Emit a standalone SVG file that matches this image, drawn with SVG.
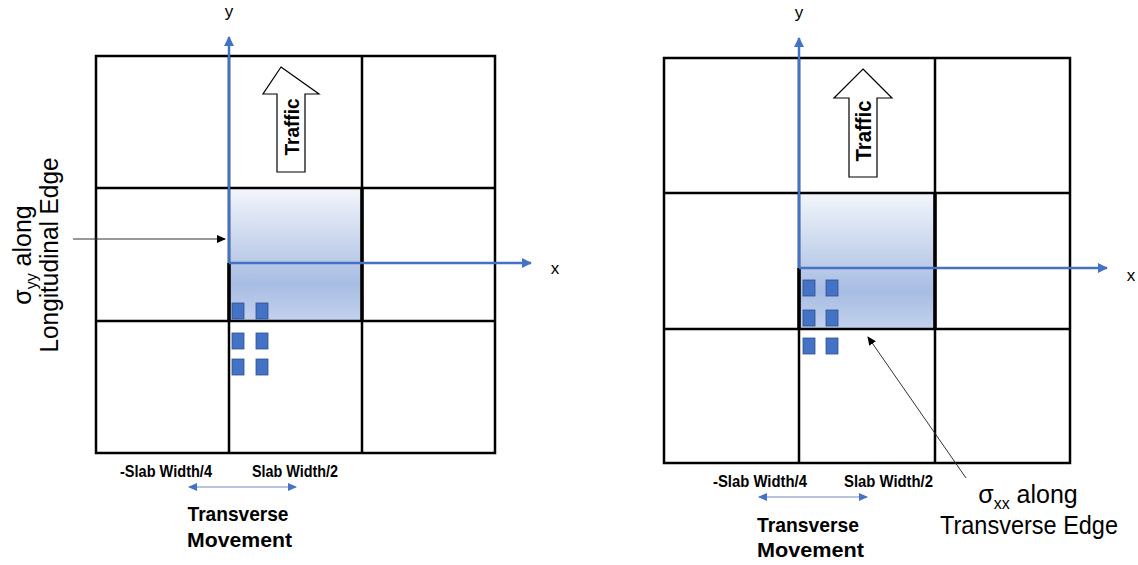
<svg xmlns="http://www.w3.org/2000/svg" width="1138" height="565" viewBox="0 0 1138 565">
<style>
.grid{fill:none;stroke:#000;stroke-width:2.5}
.thick{stroke:#000;stroke-width:3.5}
.axis{stroke:#4472c4;stroke-width:2.5;fill:none}
.sq{fill:#4472c4;stroke:#2f528f;stroke-width:0.8}
.traffic{fill:#fff;stroke:#000;stroke-width:1.2}
.lab{font-family:"Liberation Sans",Arial,sans-serif;fill:#000}
.b{font-weight:bold}
.ann{stroke:#333;stroke-width:1}
.mv{stroke:#9fb0cf;stroke-width:1.6}
</style>
<defs>
<linearGradient id="shade" x1="0" y1="0" x2="0" y2="1">
<stop offset="0" stop-color="#f3f6fb"/>
<stop offset="0.72" stop-color="#a8bde3"/>
<stop offset="1" stop-color="#c3d1ed"/>
</linearGradient>
<marker id="ab" markerWidth="10" markerHeight="10" refX="9" refY="5" orient="auto" markerUnits="userSpaceOnUse">
<path d="M0,0 L10,5 L0,10 Z" fill="#4472c4"/>
</marker>
<marker id="mb" markerWidth="9" markerHeight="8" refX="8" refY="4" orient="auto-start-reverse" markerUnits="userSpaceOnUse">
<path d="M0,0 L9,4 L0,8 Z" fill="#4472c4"/>
</marker>
<marker id="ak" markerWidth="9" markerHeight="8" refX="8" refY="4" orient="auto" markerUnits="userSpaceOnUse">
<path d="M0,0 L9,4 L0,8 Z" fill="#000"/>
</marker>
</defs>

<!-- LEFT PANEL -->
<g id="left-slab-grid">
<rect x="229" y="188" width="133" height="133" fill="url(#shade)"/>
<rect class="grid" x="96" y="56" width="399" height="397"/>
<line class="grid" x1="229" y1="56" x2="229" y2="453"/>
<line class="grid" x1="362" y1="56" x2="362" y2="453"/>
<line class="grid" x1="96" y1="188" x2="495" y2="188"/>
<line class="grid" x1="96" y1="321" x2="495" y2="321"/>
<line class="thick" x1="229" y1="263" x2="229" y2="321"/>
<line class="thick" x1="362" y1="188" x2="362" y2="321"/>
</g>
<g id="left-traffic">
<path class="traffic" d="M281,67 L319,94 L305,94 L305,172 L277,172 L277,94 L263,94 Z"/>
<text class="lab b" font-size="21" text-anchor="middle" textLength="57" lengthAdjust="spacingAndGlyphs" transform="translate(298.5,127) rotate(-90)">Traffic</text>
</g>
<g id="left-wheels">
<rect class="sq" x="232" y="303" width="12" height="16"/>
<rect class="sq" x="256" y="303" width="12" height="16"/>
<rect class="sq" x="232" y="333" width="12" height="16"/>
<rect class="sq" x="256" y="333" width="12" height="16"/>
<rect class="sq" x="232" y="359" width="12" height="16"/>
<rect class="sq" x="256" y="359" width="12" height="16"/>
</g>
<g id="left-axes">
<line class="axis" x1="229" y1="263" x2="229" y2="37" marker-end="url(#ab)"/>
<line class="axis" x1="229" y1="263" x2="531" y2="263" marker-end="url(#ab)"/>
<text class="lab" font-size="17" text-anchor="middle" x="229" y="17">y</text>
<text class="lab" font-size="17" text-anchor="middle" x="555" y="274">x</text>
</g>
<g id="left-stress-label">
<text class="lab" font-size="25" text-anchor="middle" transform="translate(31,255) rotate(-90)">σ<tspan font-size="16" dy="6">yy</tspan><tspan dy="-6"> along</tspan></text>
<text class="lab" font-size="25" text-anchor="middle" textLength="195" lengthAdjust="spacingAndGlyphs" transform="translate(58,255) rotate(-90)">Longitudinal Edge</text>
</g>
<g id="left-movement">
<text class="lab b" font-size="16" text-anchor="middle" textLength="92" lengthAdjust="spacingAndGlyphs" x="166" y="477">-Slab Width/4</text>
<text class="lab b" font-size="16" text-anchor="middle" textLength="86" lengthAdjust="spacingAndGlyphs" x="295" y="477">Slab Width/2</text>
<text class="lab b" font-size="21" text-anchor="middle" textLength="101" lengthAdjust="spacingAndGlyphs" x="238" y="521">Transverse</text>
<text class="lab b" font-size="21" text-anchor="middle" textLength="105" lengthAdjust="spacingAndGlyphs" x="239.5" y="547">Movement</text>
</g>

<!-- RIGHT PANEL -->
<g id="right-slab-grid">
<rect x="799" y="193" width="136" height="136" fill="url(#shade)"/>
<rect class="grid" x="664" y="58" width="406" height="405"/>
<line class="grid" x1="799" y1="58" x2="799" y2="463"/>
<line class="grid" x1="935" y1="58" x2="935" y2="463"/>
<line class="grid" x1="664" y1="193" x2="1070" y2="193"/>
<line class="grid" x1="664" y1="329" x2="1070" y2="329"/>
<line class="thick" x1="799" y1="268" x2="799" y2="329"/>
<line class="thick" x1="935" y1="193" x2="935" y2="329"/>
</g>
<g id="right-traffic">
<path class="traffic" d="M863,69 L892,98 L877,98 L877,177 L849,177 L849,98 L834,98 Z"/>
<text class="lab b" font-size="22" text-anchor="middle" textLength="61" lengthAdjust="spacingAndGlyphs" transform="translate(871,131) rotate(-90)">Traffic</text>
</g>
<g id="right-wheels">
<rect class="sq" x="803" y="280" width="12" height="16"/>
<rect class="sq" x="826" y="280" width="12" height="16"/>
<rect class="sq" x="803" y="310" width="12" height="16"/>
<rect class="sq" x="826" y="310" width="12" height="16"/>
<rect class="sq" x="803" y="338" width="12" height="16"/>
<rect class="sq" x="826" y="338" width="12" height="16"/>
</g>
<g id="right-axes">
<line class="axis" x1="799" y1="268" x2="799" y2="38" marker-end="url(#ab)"/>
<line class="axis" x1="799" y1="268" x2="1107" y2="268" marker-end="url(#ab)"/>
<text class="lab" font-size="17" text-anchor="middle" x="799" y="18">y</text>
<text class="lab" font-size="17" text-anchor="middle" x="1131" y="281">x</text>
</g>
<g id="right-stress-label">
<text class="lab" font-size="25" text-anchor="middle" x="1028" y="503">σ<tspan font-size="16" dy="6">xx</tspan><tspan dy="-6"> along</tspan></text>
<text class="lab" font-size="25" text-anchor="middle" textLength="178" lengthAdjust="spacingAndGlyphs" x="1029" y="534">Transverse Edge</text>
</g>
<g id="right-movement">
<text class="lab b" font-size="16" text-anchor="middle" textLength="94" lengthAdjust="spacingAndGlyphs" x="760" y="487">-Slab Width/4</text>
<text class="lab b" font-size="16" text-anchor="middle" textLength="89" lengthAdjust="spacingAndGlyphs" x="888.5" y="487">Slab Width/2</text>
<text class="lab b" font-size="21" text-anchor="middle" textLength="102" lengthAdjust="spacingAndGlyphs" x="808" y="532">Transverse</text>
<text class="lab b" font-size="21" text-anchor="middle" textLength="107" lengthAdjust="spacingAndGlyphs" x="810.5" y="557">Movement</text>
</g>

<!-- CONNECTORS -->
<g id="connectors">
<line class="ann" x1="73" y1="239" x2="225" y2="239" marker-end="url(#ak)"/>
<line class="ann" x1="966" y1="478" x2="868" y2="337" marker-end="url(#ak)"/>
<line class="mv" x1="189" y1="487" x2="296" y2="487" marker-start="url(#mb)" marker-end="url(#mb)"/>
<line class="mv" x1="759" y1="497" x2="867" y2="497" marker-start="url(#mb)" marker-end="url(#mb)"/>
</g>
</svg>
